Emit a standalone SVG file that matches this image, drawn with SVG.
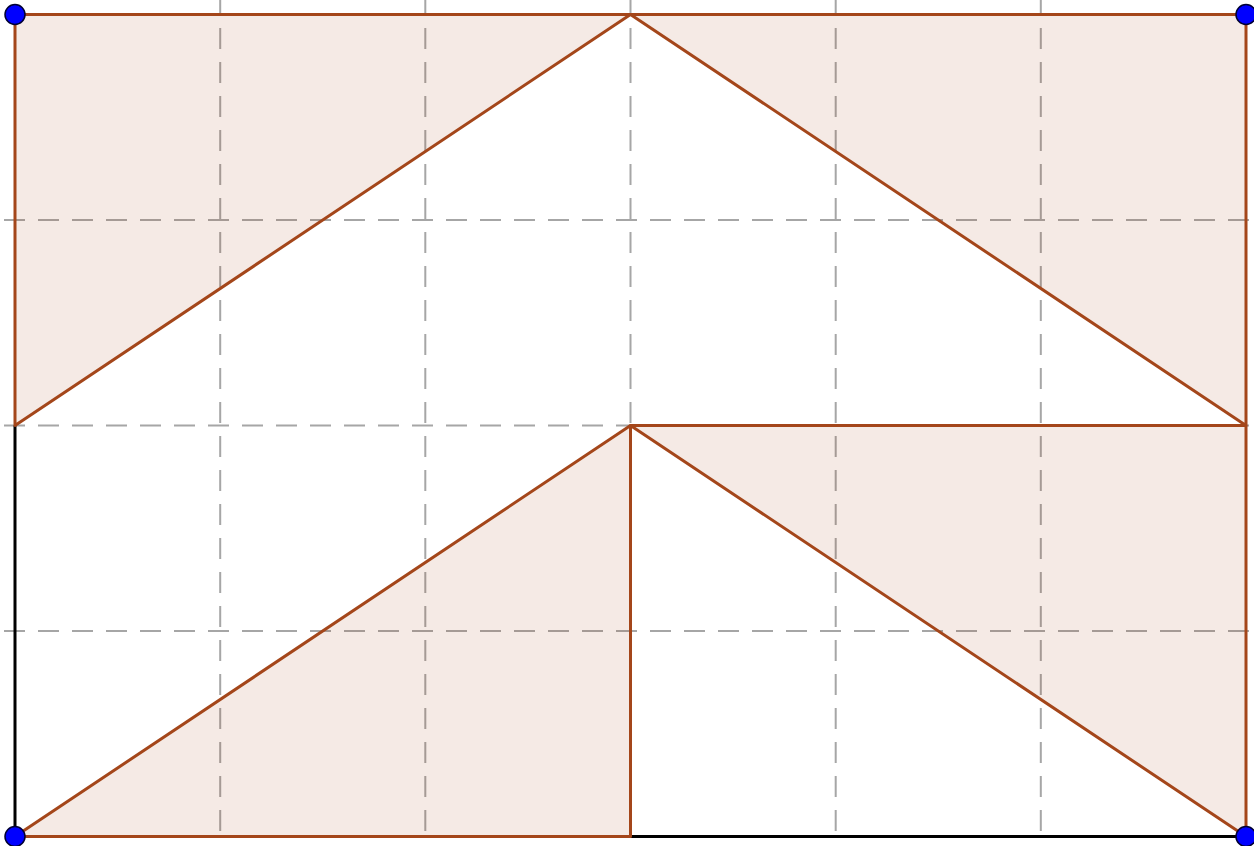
<svg xmlns="http://www.w3.org/2000/svg" width="1254" height="846" viewBox="0 0 1254 846">
  <style>
    .grid { stroke: #a6a6a6; stroke-width: 2; stroke-dasharray: 21 13; fill: none; }
    .tri { fill: #993300; fill-opacity: 0.1; stroke: #a4461a; stroke-width: 3; stroke-linejoin: round; }
    .seg { stroke: #000000; stroke-width: 3; fill: none; }
    .pt { fill: #0000ff; stroke: #000033; stroke-width: 1.5; }
  </style>
  <rect width="1254" height="846" fill="#ffffff"/>
  <g id="grid">
    <line class="grid" x1="220.2" y1="-6" x2="220.2" y2="836"/>
    <line class="grid" x1="425.3" y1="-6" x2="425.3" y2="836"/>
    <line class="grid" x1="630.5" y1="-6" x2="630.5" y2="836"/>
    <line class="grid" x1="835.7" y1="-6" x2="835.7" y2="836"/>
    <line class="grid" x1="1040.8" y1="-6" x2="1040.8" y2="836"/>
    <line class="grid" x1="4" y1="220" x2="1254" y2="220"/>
    <line class="grid" x1="4" y1="425.5" x2="1254" y2="425.5"/>
    <line class="grid" x1="4" y1="631" x2="1254" y2="631"/>
  </g>
  <g id="connectors">
    <line class="seg" x1="15" y1="425.5" x2="15" y2="836.5"/>
    <line class="seg" x1="630.5" y1="836.5" x2="1246" y2="836.5"/>
  </g>
  <g id="triangle-top-left">
    <polygon class="tri" points="15,14.5 630.5,14.5 15,425.5"/>
  </g>
  <g id="triangle-top-right">
    <polygon class="tri" points="630.5,14.5 1246,14.5 1246,425.5"/>
  </g>
  <g id="triangle-bottom-left">
    <polygon class="tri" points="15,836.5 630.5,425.5 630.5,836.5"/>
  </g>
  <g id="triangle-bottom-right">
    <polygon class="tri" points="630.5,425.5 1246,425.5 1246,836.5"/>
  </g>
  <g id="point-A"><circle class="pt" cx="15" cy="14.5" r="10"/></g>
  <g id="point-B"><circle class="pt" cx="1246" cy="14.5" r="10"/></g>
  <g id="point-C"><circle class="pt" cx="15" cy="836.5" r="10"/></g>
  <g id="point-D"><circle class="pt" cx="1246" cy="836.5" r="10"/></g>
</svg>
